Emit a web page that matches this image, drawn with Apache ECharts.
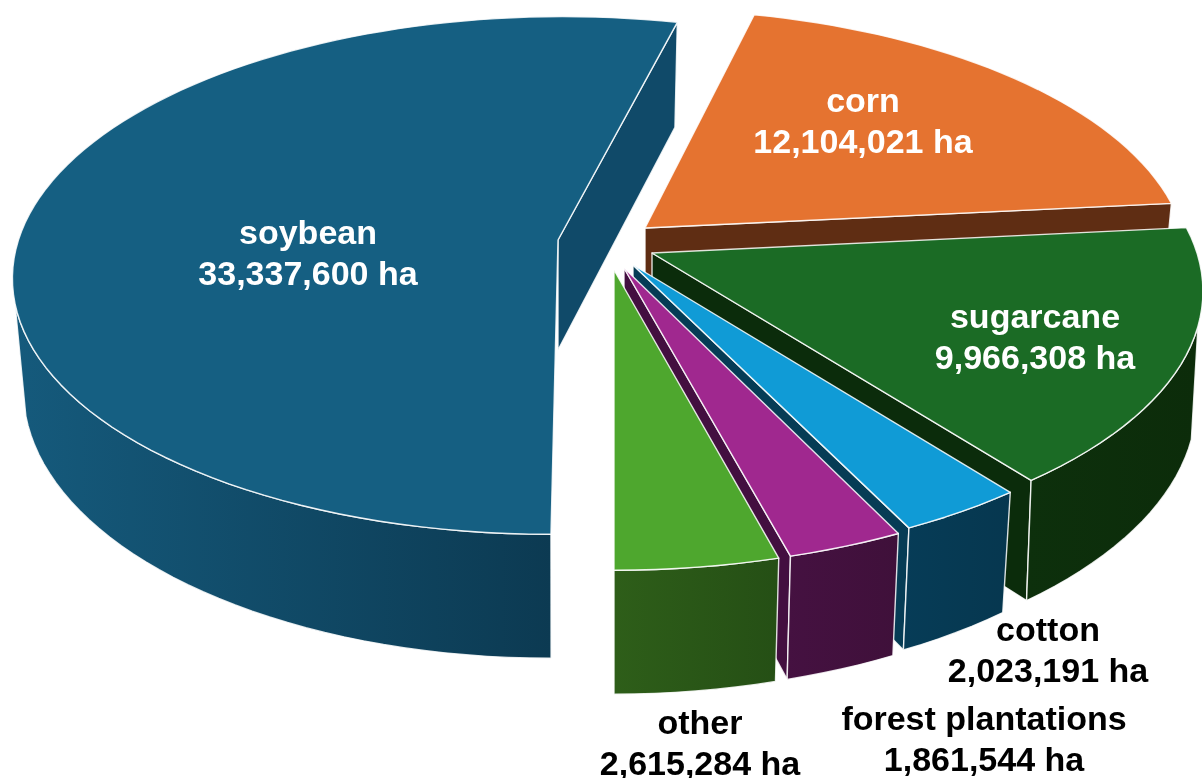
<!DOCTYPE html>
<html>
<head>
<meta charset="utf-8">
<style>html,body{margin:0;padding:0;background:#fff}#chart{width:1202px;height:778px}</style>
<script src="https://cdn.jsdelivr.net/npm/echarts@6/dist/echarts.min.js"></script>
</head>
<body>
<div id="chart"></div>
<script>
// land use, clockwise from the bottom of the pie
var categories = ['soybean', 'corn', 'sugarcane', 'cotton', 'forest plantations', 'other'];
var areas = [33337600, 12104021, 9966308, 2023191, 1861544, 2615284];

var topColors = ['#155f82', '#e57330', '#1b6b25', '#109bd6', '#a0288f', '#4ea72e'];
var cutColors = ['#104a69', '#5f2d13', '#0b2c0b', '#063c55', '#430f40', '#2b5a18'];
var wallLeft = ['#155a7c', '#5f2d13', '#0d300c', '#063c57', '#451141', '#2e5e19'];
var wallRight = ['#0c3a52', '#5f2d13', '#0c2c0a', '#06374f', '#3f103a', '#254f15'];
var labelColors = ['#fff', '#fff', '#fff', '#000', '#000', '#000'];

// where each exploded slice has its tip, and where its label sits
var tipX = [558, 645, 652, 633, 624, 614];
var tipY = [240, 228, 253, 265, 268, 270];
var skew = [-0.024, 0.02, 0.02, 0.012, 0.006, 0];
var radX = [0.99, 0.985, 1, 1, 1, 1];
var radY = [1, 0.98, 1.01, 1.01, 1.02, 1.02];
var shrink = [0.02, 0.02, 0.012, 0.02, 0.02, 0.02];
var labelX = [308, 863, 1035, 1048, 984, 700];
var labelY = [255, 123, 339, 652, 741, 745];

var RX = 545, RY = 254, PERSP = 0.137, DEPTH = 110;
var WALL_FROM = 106, WALL_TO = 256; // the wall is only drawn on this front stretch
var EDGE = 'rgba(255,255,255,0.85)';

var total = areas.reduce(function (a, b) { return a + b; }, 0);
var cumul = [];
areas.reduce(function (sum, v, i) { cumul[i] = sum; return sum + v; }, 0);

function project(i, deg, down) {
    var t = deg * Math.PI / 180;
    var u = Math.sin(t), v = -Math.cos(t);
    var s = 1 / (1 - PERSP * v);
    var dy = RY * radY[i] * v * s;
    var dx = RX * radX[i] * u * s + skew[i] * dy;
    if (down) {
        // wall gets a bit taller towards the viewer
        var depth = DEPTH * (1 + 0.086 * v + 0.041 * v * v);
        return [tipX[i] + dx * (1 - shrink[i]), tipY[i] + dy + depth];
    }
    return [tipX[i] + dx, tipY[i] + dy];
}

function arc(i, from, to, down) {
    var pts = [], n = Math.max(2, Math.ceil(Math.abs(to - from) / 2));
    for (var k = 0; k <= n; k++) {
        pts.push(project(i, from + (to - from) * k / n, down));
    }
    return pts;
}

function poly(points, fill) {
    return {
        type: 'polygon',
        shape: { points: points },
        style: { fill: fill, stroke: EDGE, lineWidth: 1.4, lineJoin: 'round' }
    };
}

function renderSlice(params, api) {
    var i = params.dataIndex;
    var start = echarts.number.linearMap(cumul[i], [0, total], [180, 540]);
    var end = start + api.value(0) / total * 360;
    if (start >= 360) {
        start -= 360;
        end -= 360;
    }
    var kids = [];
    var tip = [tipX[i], tipY[i]];
    var tipDown = [tipX[i], tipY[i] + DEPTH];

    // cut face on the clockwise side
    kids.push(poly([tip, project(i, end, false), project(i, end, true), tipDown], cutColors[i]));

    // outer wall
    var a = Math.max(start, WALL_FROM), b = Math.min(end, WALL_TO);
    if (b > a) {
        var upper = arc(i, a, b, false);
        var lower = arc(i, b, a, true);
        kids.push(poly(upper.concat(lower), new echarts.graphic.LinearGradient(0, 0, 1, 0, [
            { offset: 0, color: wallLeft[i] },
            { offset: 1, color: wallRight[i] }
        ])));
    }

    // top face
    kids.push(poly([tip].concat(arc(i, start, end, false)), topColors[i]));

    kids.push({
        type: 'text',
        x: labelX[i],
        y: labelY[i],
        style: {
            text: categories[i] + '\n' + api.value(0).toLocaleString('en-US') + ' ha',
            fill: labelColors[i],
            font: 'bold 34px "Liberation Sans", Arial, sans-serif',
            lineHeight: 41,
            align: 'center',
            verticalAlign: 'middle'
        }
    });
    return { type: 'group', children: kids };
}

var chart = echarts.init(document.getElementById('chart'));
chart.setOption({
    animation: false,
    backgroundColor: '#fff',
    series: [{
        type: 'custom',
        coordinateSystem: 'none',
        silent: true,
        renderItem: renderSlice,
        data: areas.map(function (v) { return [v]; })
    }]
});
</script>
</body>
</html>
